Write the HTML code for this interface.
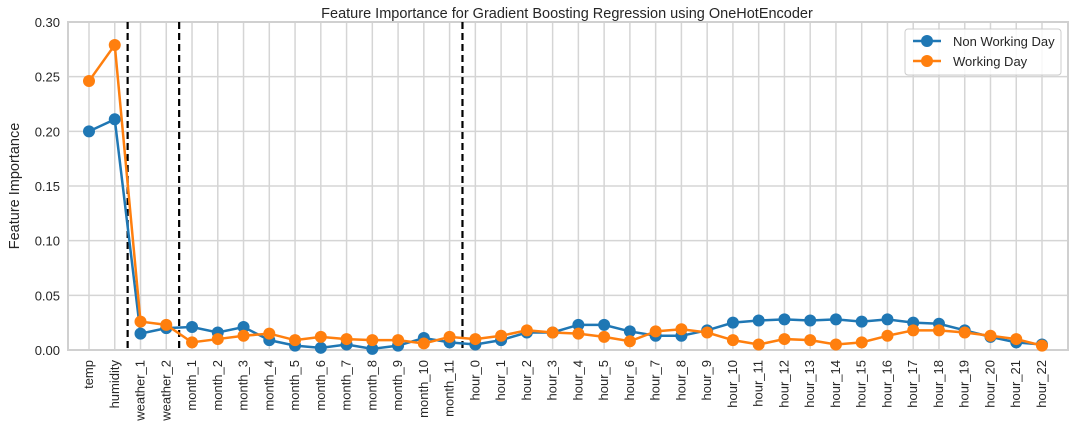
<!DOCTYPE html>
<html><head><meta charset="utf-8"><style>
body{margin:0;background:#fff;font-family:"Liberation Sans",sans-serif;}
svg text{font-family:"Liberation Sans",sans-serif;fill:#262626;}
</style></head><body>
<svg id="chart" width="1084" height="432"></svg>
<script>
const categories=["temp","humidity","weather_1","weather_2","month_1","month_2","month_3","month_4","month_5","month_6","month_7","month_8","month_9","month_10","month_11","hour_0","hour_1","hour_2","hour_3","hour_4","hour_5","hour_6","hour_7","hour_8","hour_9","hour_10","hour_11","hour_12","hour_13","hour_14","hour_15","hour_16","hour_17","hour_18","hour_19","hour_20","hour_21","hour_22"];
const nonWorking=[.200,.211,.015,.020,.021,.016,.021,.009,.004,.002,.005,.001,.004,.011,.007,.005,.009,.016,.016,.023,.023,.017,.013,.013,.018,.025,.027,.028,.027,.028,.026,.028,.025,.024,.018,.012,.007,.005];
const working=[.246,.279,.026,.023,.007,.010,.013,.015,.009,.012,.010,.009,.009,.006,.012,.010,.013,.018,.016,.015,.012,.008,.017,.019,.016,.009,.005,.010,.009,.005,.007,.013,.018,.018,.016,.013,.010,.004];
const yTicks=[0,0.05,0.10,0.15,0.20,0.25,0.30];
const separators=[1.5,3.5,14.5];
const NS="http://www.w3.org/2000/svg";
const svg=document.getElementById('chart');
const L=68,R=1068,T=22,B=350;
const x=i=>89+i*(1042-89)/37;
const y=v=>B-(v/0.30)*(B-T);
function el(t,a,p){const e=document.createElementNS(NS,t);for(const k in a)e.setAttribute(k,a[k]);(p||svg).appendChild(e);return e;}
categories.forEach((c,i)=>{
 const g=el('line',{x1:x(i),x2:x(i),y1:T,y2:B,stroke:'#d5d5d5','stroke-width':1.5});
 
 
 const t=el('text',{x:0,y:0,'font-size':13,'text-anchor':'end',transform:`translate(${x(i)+4},${B+10}) rotate(-90)`});
 t.textContent=c;
 
 
});
yTicks.forEach(v=>{
 const g=el('line',{x1:L,x2:R,y1:y(v),y2:y(v),stroke:'#d5d5d5','stroke-width':1.5});
 
 
 const t=el('text',{x:L-8,y:y(v)+5,'font-size':13,'text-anchor':'end'});
 t.textContent=v.toFixed(2);
 
 
});
const fr=el('rect',{x:L,y:T,width:R-L,height:B-T,fill:'none',stroke:'#d0d0d0','stroke-width':2});


separators.forEach(s=>{
 const d=el('line',{x1:x(s),x2:x(s),y1:T,y2:B,stroke:'#000','stroke-width':2.2,'stroke-dasharray':'7,4'});
 
 
});
function series(vals,color,name){
 const p=el('polyline',{points:vals.map((v,i)=>x(i)+','+y(v)).join(' '),fill:'none',stroke:color,'stroke-width':2.5});
 
 
 vals.forEach((v,i)=>{
  const c=el('circle',{cx:x(i),cy:y(v),r:6,fill:color});
  
  
 });
}
series(nonWorking,'#1f77b4','non-working-day');
series(working,'#ff7f0e','working-day');
const title=el('text',{x:567,y:18,'font-size':14.5,'text-anchor':'middle'});
title.textContent='Feature Importance for Gradient Boosting Regression using OneHotEncoder';


const yt=el('text',{x:0,y:0,'font-size':14.5,'text-anchor':'middle',transform:`translate(19,${(T+B)/2}) rotate(-90)`});
yt.textContent='Feature Importance';


const lg=el('g',{});


el('rect',{x:905,y:29,width:156,height:46,rx:3,fill:'#fff',stroke:'#ccc','fill-opacity':0.85},lg);
[['Non Working Day','#1f77b4',41],['Working Day','#ff7f0e',61]].forEach(([n,c,yy])=>{
 const e=el('g',{},lg);
 
 
 el('line',{x1:913,x2:941,y1:yy,y2:yy,stroke:c,'stroke-width':2.5},e);
 el('circle',{cx:927,cy:yy,r:6,fill:c},e);
 const t=el('text',{x:953,y:yy+5,'font-size':13},e);t.textContent=n;
});
</script>
</body></html>
